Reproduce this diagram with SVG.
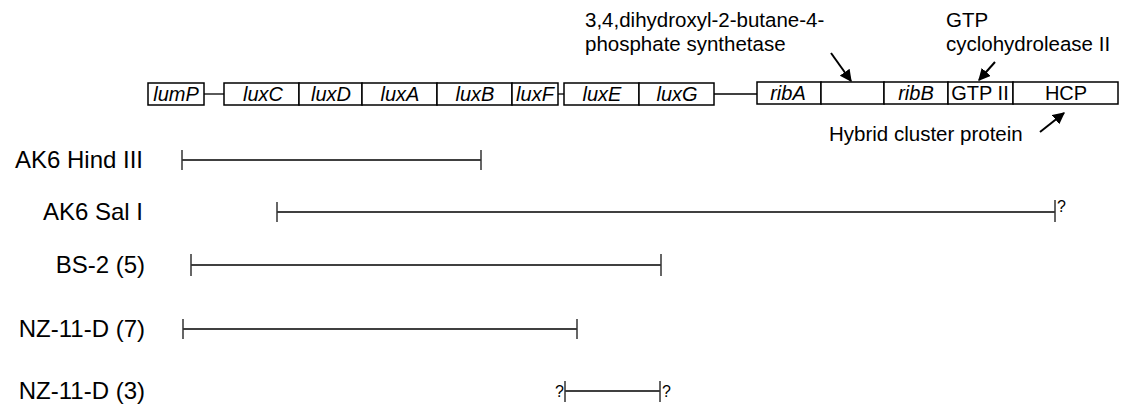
<svg xmlns="http://www.w3.org/2000/svg" width="1128" height="410" viewBox="0 0 1128 410">
<style>
text{font-family:"Liberation Sans",Arial,sans-serif;fill:#000}
.g{font-size:20px;font-style:italic;text-anchor:middle}
.gn{font-size:20px;text-anchor:middle}
.lab{font-size:24px;text-anchor:end}
.note{font-size:20.5px}
.box{fill:#fff;stroke:#000;stroke-width:1.5}
.ln{stroke:#000;stroke-width:1.3;fill:none}
.ar{stroke:#000;stroke-width:2;fill:none}
.tk{stroke:#333;stroke-width:1.5}
.q{font-size:16px}
</style>
<defs>
<marker id="ah" viewBox="0 0 10 10" refX="9" refY="5" markerWidth="6" markerHeight="6" orient="auto">
<path d="M0,0 L10,5 L0,10 z" fill="#000"/>
</marker>
</defs>
<rect width="1128" height="410" fill="#fff"/>
<g id="connectors">
<line class="ln" x1="204" y1="94" x2="224" y2="94"/>
<line class="ln" x1="558" y1="94" x2="564" y2="94"/>
<line class="ln" x1="714" y1="94" x2="757" y2="94"/>
<line class="ar" x1="831" y1="53" x2="851" y2="81" marker-end="url(#ah)"/>
<line class="ar" x1="995" y1="62" x2="979" y2="80" marker-end="url(#ah)"/>
<line class="ar" x1="1040" y1="132" x2="1064" y2="113" marker-end="url(#ah)"/>
</g>
<g id="lumP"><rect class="box" x="148" y="83" width="56" height="22" stroke="#555"/><text class="g" x="176" y="101">lumP</text></g>
<g id="luxC"><rect class="box" x="224" y="83" width="75" height="22"/><text class="g" x="263" y="101">luxC</text></g>
<g id="luxD"><rect class="box" x="299" y="83" width="63" height="22"/><text class="g" x="331" y="101">luxD</text></g>
<g id="luxA"><rect class="box" x="362" y="83" width="75" height="22"/><text class="g" x="400" y="101">luxA</text></g>
<g id="luxB"><rect class="box" x="437" y="83" width="75" height="22"/><text class="g" x="475" y="101">luxB</text></g>
<g id="luxF"><rect class="box" x="512" y="83" width="46" height="22"/><text class="g" x="535" y="101">luxF</text></g>
<g id="luxE"><rect class="box" x="564" y="83" width="75" height="22"/><text class="g" x="602" y="101">luxE</text></g>
<g id="luxG"><rect class="box" x="639" y="83" width="75" height="22"/><text class="g" x="677" y="101">luxG</text></g>
<g id="ribA"><rect class="box" x="757" y="82" width="64" height="22"/><text class="g" x="788" y="100">ribA</text></g>
<g id="blank"><rect class="box" x="821" y="82" width="63" height="22"/></g>
<g id="ribB"><rect class="box" x="884" y="82" width="64" height="22"/><text class="g" x="916" y="100">ribB</text></g>
<g id="gtp2"><rect class="box" x="948" y="82" width="65" height="22"/><text class="gn" x="980" y="100">GTP II</text></g>
<g id="hcp"><rect class="box" x="1013" y="82" width="105" height="22"/><text class="gn" x="1066" y="100">HCP</text></g>
<g id="notes">
<text class="note" x="585" y="27">3,4,dihydroxyl-2-butane-4-</text>
<text class="note" x="585" y="51">phosphate synthetase</text>
<text class="note" x="946" y="27">GTP</text>
<text class="note" x="946" y="51">cyclohydrolease II</text>
<text class="note" x="829" y="141" font-size="21">Hybrid cluster protein</text>
</g>
<g id="row1"><text class="lab" x="143" y="168">AK6 Hind III</text>
<line class="ln" x1="182" y1="160" x2="481" y2="160"/><line class="tk" x1="182" y1="150" x2="182" y2="170"/><line class="tk" x1="481" y1="150" x2="481" y2="170"/></g>
<g id="row2"><text class="lab" x="143" y="220">AK6 Sal I</text>
<line class="ln" x1="277" y1="212" x2="1055" y2="212"/><line class="tk" x1="277" y1="202" x2="277" y2="222"/><line class="tk" x1="1055" y1="200" x2="1055" y2="222"/><text class="q" x="1057" y="212">?</text></g>
<g id="row3"><text class="lab" x="145" y="273">BS-2 (5)</text>
<line class="ln" x1="191" y1="265" x2="661" y2="265"/><line class="tk" x1="191" y1="254" x2="191" y2="276"/><line class="tk" x1="661" y1="254" x2="661" y2="276"/></g>
<g id="row5"><text class="lab" x="145" y="399">NZ-11-D (3)</text>
<line class="ln" x1="565" y1="391" x2="660" y2="391"/><line class="tk" x1="565" y1="381" x2="565" y2="402"/><line class="tk" x1="660" y1="381" x2="660" y2="402"/><text class="q" x="555" y="397">?</text><text class="q" x="662" y="397">?</text></g>
<g id="row4"><text class="lab" x="145" y="337">NZ-11-D (7)</text>
<line class="ln" x1="183" y1="329" x2="577" y2="329"/><line class="tk" x1="183" y1="319" x2="183" y2="339"/><line class="tk" x1="577" y1="319" x2="577" y2="339"/></g>
</svg>
